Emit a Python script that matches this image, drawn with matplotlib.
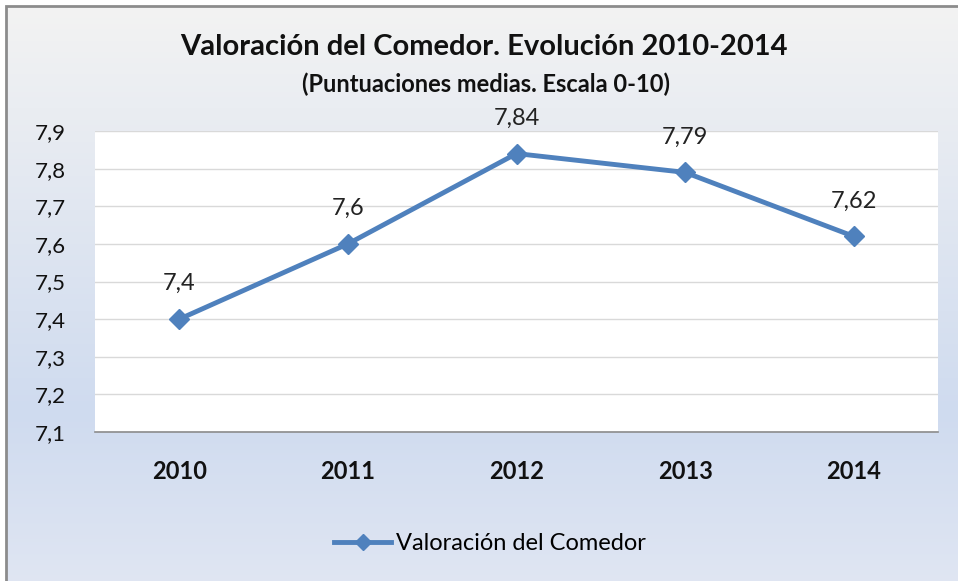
import numpy as np
import matplotlib.pyplot as plt
from matplotlib.patches import Rectangle
from matplotlib.colors import LinearSegmentedColormap

years = ['2010', '2011', '2012', '2013', '2014']
scores = [7.4, 7.6, 7.84, 7.79, 7.62]
score_labels = ['7,4', '7,6', '7,84', '7,79', '7,62']
yticks = [7.1, 7.2, 7.3, 7.4, 7.5, 7.6, 7.7, 7.8, 7.9]

W, H = 958, 581
plt.rcParams['font.family'] = ['Lato', 'DejaVu Sans']

fig = plt.figure(figsize=(W / 100, H / 100), dpi=100)
fig.patch.set_facecolor('white')

# background gradient of the chart area
bg = fig.add_axes([0, 0, 1, 1], zorder=-10)
cmap = LinearSegmentedColormap.from_list('bg', [(0.0, '#f3f3f3'), (0.7, '#cfdbef'), (1.0, '#e0e6f3')])
grad = np.linspace(0, 1, 256).reshape(-1, 1)
bg.imshow(grad, aspect='auto', cmap=cmap, extent=[6 / W, 1.01, -0.01, 1 - 6 / H],
          origin='upper')
bg.add_patch(Rectangle((6 / W, -0.01), 1.0, 1 - 6 / H + 0.01, fill=False,
                       edgecolor='#8c8c8c', linewidth=2))
bg.set_xlim(0, 1)
bg.set_ylim(0, 1)
bg.axis('off')

# plot area
left, right, top, bottom = 95, 938, 131, 432
ax = fig.add_axes([left / W, 1 - bottom / H, (right - left) / W, (bottom - top) / H])
ax.set_facecolor('white')

x = np.arange(len(years))
ax.plot(x, scores, color='#4f81bd', linewidth=3.5, marker='D', markersize=10,
        label='Valoración del Comedor', zorder=3)
for xi, yi, lab in zip(x, scores, score_labels):
    ax.annotate(lab, (xi, yi), xytext=(0, 18), textcoords='offset points',
                ha='center', va='bottom', fontsize=17, color='#222222')

ax.set_xlim(-0.5, 4.5)
ax.set_ylim(7.1, 7.9)
ax.set_yticks(yticks)
ax.set_yticklabels([f'{v:.1f}'.replace('.', ',') for v in yticks], fontsize=16)
ax.set_xticks(x)
ax.set_xticklabels(years, fontsize=17, fontweight='bold')
ax.tick_params(axis='both', length=0, colors='#111111')
ax.tick_params(axis='y', pad=21)
ax.tick_params(axis='x', pad=20)
ax.yaxis.grid(True, color='#d9d9d9', linewidth=1)
ax.set_axisbelow(True)
for s in ['top', 'right', 'left']:
    ax.spines[s].set_visible(False)
ax.spines['bottom'].set_color('#8c8c8c')
ax.spines['bottom'].set_linewidth(1.2)

fig.text(484 / W, 1 - 47 / H, 'Valoración del Comedor. Evolución 2010-2014',
         ha='center', va='center', fontsize=21, fontweight='bold', color='#111111')
fig.text(486 / W, 1 - 84 / H, '(Puntuaciones medias. Escala 0-10)',
         ha='center', va='center', fontsize=17, fontweight='bold', color='#111111')

fig.legend(loc='center', bbox_to_anchor=(490 / W, 1 - 544 / H), frameon=False,
           fontsize=17, handlelength=2.4, handletextpad=0.2, markerscale=0.85)

fig.savefig('out.png', dpi=100, facecolor=fig.get_facecolor())
